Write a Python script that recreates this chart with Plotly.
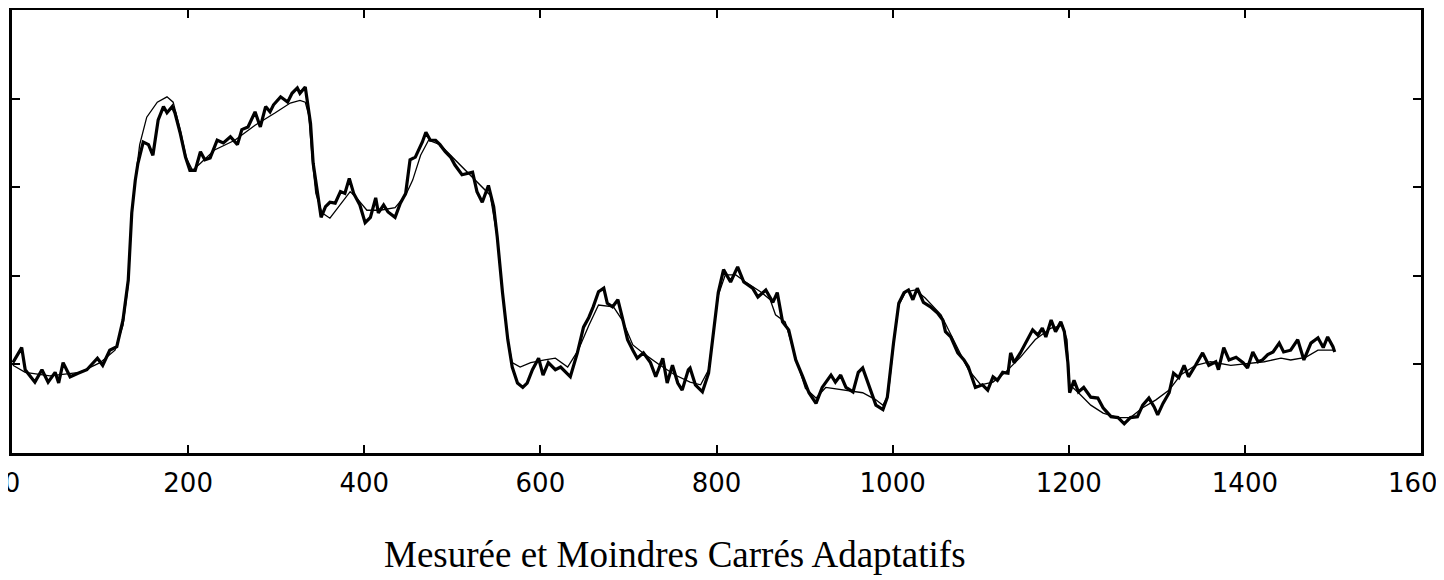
import plotly.graph_objects as go

# Courbe mesurée (trait épais)
x_mesure = [1, 11, 15, 26, 34, 41, 49, 53, 58, 66, 75, 85, 97, 103, 111, 119, 126, 132, 136, 140,
            143, 149, 155, 160, 166, 172, 176, 182, 185, 191, 197, 202, 208, 214, 219, 225, 233, 240,
            248, 256, 261, 268, 276, 282, 288, 293, 297, 305, 313, 318, 324, 327, 333, 336, 339, 342,
            347, 351, 356, 361, 367, 373, 378, 383, 388, 395, 401, 407, 413, 416, 422, 427, 435, 441,
            447, 452, 458, 466, 470, 475, 481, 486, 492, 498, 503, 511, 523, 528, 534, 541, 547, 551,
            557, 563, 568, 574, 580, 585, 591, 598, 603, 609, 617, 623, 634, 642, 649, 655, 660, 666,
            672, 676, 682, 688, 693, 699, 705, 710, 717, 725, 731, 739, 744, 750, 756, 761, 768, 770,
            776, 784, 791, 797, 802, 808, 816, 824, 831, 841, 847, 856, 864, 869, 875, 882, 890, 898,
            905, 913, 920, 930, 935, 941, 947, 955, 961, 966, 972, 981, 989, 994, 1001, 1007, 1013,
            1018, 1023, 1028, 1035, 1043, 1051, 1057, 1060, 1066, 1074, 1081, 1086, 1094, 1102, 1108,
            1114, 1119, 1125, 1131, 1134, 1138, 1145, 1153, 1159, 1165, 1170, 1174, 1180, 1185, 1191,
            1195, 1199, 1201, 1206, 1211, 1217, 1225, 1233, 1239, 1248, 1256, 1263, 1270, 1278, 1284,
            1291, 1297, 1301, 1307, 1314, 1319, 1325, 1331, 1336, 1344, 1352, 1359, 1367, 1370, 1376,
            1382, 1390, 1398, 1403, 1409, 1415, 1420, 1426, 1432, 1439, 1444, 1452, 1460, 1467, 1475,
            1483, 1489, 1494, 1500, 1502]
y_mesure = [1.02, 1.19, 0.94, 0.80, 0.94, 0.80, 0.91, 0.79, 1.02, 0.86, 0.90, 0.94, 1.07, 0.99, 1.16,
            1.20, 1.50, 1.95, 2.71, 3.08, 3.27, 3.51, 3.48, 3.36, 3.76, 3.91, 3.84, 3.91, 3.84, 3.61,
            3.34, 3.19, 3.19, 3.40, 3.31, 3.33, 3.53, 3.50, 3.57, 3.48, 3.65, 3.68, 3.85, 3.68, 3.91,
            3.85, 3.93, 4.02, 3.96, 4.06, 4.12, 4.06, 4.13, 3.93, 3.72, 3.27, 2.93, 2.66, 2.78, 2.83,
            2.82, 2.95, 2.93, 3.10, 2.93, 2.80, 2.60, 2.66, 2.88, 2.71, 2.80, 2.72, 2.66, 2.82, 2.93,
            3.31, 3.34, 3.51, 3.62, 3.53, 3.53, 3.48, 3.40, 3.34, 3.25, 3.14, 3.17, 2.95, 2.83, 3.02,
            2.78, 2.44, 1.81, 1.28, 0.97, 0.79, 0.74, 0.79, 0.94, 1.07, 0.88, 1.02, 0.94, 0.97, 0.86,
            1.13, 1.42, 1.53, 1.65, 1.82, 1.86, 1.69, 1.65, 1.73, 1.53, 1.28, 1.16, 1.07, 1.13, 1.02,
            0.86, 1.07, 0.79, 0.99, 0.79, 0.71, 0.94, 0.96, 0.77, 0.69, 0.90, 1.42, 1.81, 2.07, 1.93,
            2.10, 1.93, 1.86, 1.76, 1.84, 1.70, 1.81, 1.48, 1.39, 1.05, 0.86, 0.68, 0.56, 0.74, 0.88,
            0.80, 0.88, 0.74, 0.69, 0.91, 0.96, 0.79, 0.54, 0.49, 0.63, 1.24, 1.69, 1.81, 1.84, 1.73,
            1.86, 1.70, 1.65, 1.58, 1.50, 1.37, 1.31, 1.13, 1.05, 0.97, 0.74, 0.77, 0.71, 0.86, 0.82,
            0.91, 0.90, 1.13, 1.02, 1.13, 1.28, 1.39, 1.33, 1.41, 1.31, 1.50, 1.37, 1.48, 1.37, 1.02,
            0.68, 0.82, 0.69, 0.74, 0.63, 0.62, 0.51, 0.41, 0.40, 0.33, 0.40, 0.41, 0.54, 0.62, 0.52,
            0.43, 0.56, 0.68, 0.90, 0.85, 0.99, 0.86, 0.99, 1.13, 0.99, 1.03, 0.94, 1.19, 1.05, 1.08,
            1.02, 0.96, 1.14, 1.03, 1.05, 1.11, 1.14, 1.24, 1.14, 1.16, 1.28, 1.05, 1.24, 1.30, 1.19,
            1.31, 1.20, 1.14]

# Moindres carrés adaptatifs (trait fin)
x_mca = [1, 15, 43, 77, 100, 117, 126, 132, 136, 140, 145, 153, 165, 176, 183, 191, 198, 205, 214,
         230, 253, 276, 299, 316, 327, 333, 337, 341, 345, 352, 361, 373, 384, 393, 403, 418, 435,
         447, 455, 464, 473, 486, 503, 515, 532, 543, 551, 557, 563, 568, 577, 589, 605, 617, 631,
         643, 655, 666, 683, 693, 705, 719, 736, 753, 770, 782, 791, 797, 802, 810, 822, 833, 850,
         861, 867, 878, 890, 901, 913, 924, 947, 966, 981, 989, 995, 1001, 1007, 1015, 1026, 1037,
         1055, 1072, 1086, 1100, 1114, 1128, 1145, 1162, 1180, 1193, 1198, 1201, 1211, 1225, 1239,
         1256, 1270, 1284, 1299, 1314, 1327, 1344, 1361, 1384, 1422, 1441, 1452, 1469, 1483, 1501]
y_mca = [0.99, 0.91, 0.87, 0.91, 1.02, 1.16, 1.44, 1.90, 2.69, 3.08, 3.48, 3.79, 3.96, 4.02, 3.96,
         3.65, 3.33, 3.19, 3.27, 3.42, 3.53, 3.70, 3.84, 3.95, 3.98, 3.96, 3.81, 3.31, 2.93, 2.71,
         2.65, 2.80, 2.95, 2.86, 2.74, 2.74, 2.77, 2.91, 3.08, 3.36, 3.53, 3.48, 3.31, 3.19, 3.02,
         2.91, 2.44, 1.81, 1.28, 1.02, 0.97, 1.02, 1.05, 1.07, 0.97, 1.16, 1.44, 1.67, 1.65, 1.50,
         1.22, 1.11, 0.99, 0.88, 0.80, 0.77, 0.94, 1.39, 1.78, 2.01, 2.01, 1.93, 1.82, 1.73, 1.56,
         1.48, 1.07, 0.73, 0.62, 0.74, 0.71, 0.68, 0.60, 0.54, 0.65, 1.22, 1.67, 1.82, 1.84, 1.75,
         1.56, 1.22, 0.94, 0.77, 0.80, 0.91, 1.08, 1.28, 1.41, 1.44, 1.28, 0.77, 0.68, 0.54, 0.45,
         0.40, 0.40, 0.51, 0.60, 0.71, 0.88, 0.99, 1.03, 0.99, 1.03, 1.07, 1.05, 1.08, 1.16, 1.16]

x_ticks = [0, 200, 400, 600, 800, 1000, 1200, 1400, 1600]
y_ticks = [1, 2, 3, 4]
titre = "Mesurée et Moindres Carrés Adaptatifs"

fig = go.Figure()
fig.add_trace(go.Scatter(x=x_mca, y=y_mca, mode='lines',
                         line=dict(color='black', width=1.3), name='Moindres carrés'))
fig.add_trace(go.Scatter(x=x_mesure, y=y_mesure, mode='lines',
                         line=dict(color='black', width=3.2), name='Mesurée'))

# marges réduites de 8px : la page html ajoute une marge de 8px autour du graphique
fig.update_layout(
    width=1444, height=580,
    margin=dict(l=4, r=31, t=2, b=135, autoexpand=False),
    plot_bgcolor='white', paper_bgcolor='white',
    showlegend=False,
    annotations=[dict(text=titre, xref='paper', yref='paper', x=0.4705, y=-0.23,
                      xanchor='center', yanchor='middle', showarrow=False,
                      font=dict(family='Liberation Serif', size=37, color='black'))],
)

# les étiquettes 0 et 1600 débordent du cadre, comme sur l'original
fig.update_xaxes(range=[0, 1600], tickvals=x_ticks, ticks='inside', ticklen=8, tickwidth=2,
                 tickcolor='black', showline=True, linecolor='black', linewidth=2.5, mirror='ticks',
                 showgrid=False, zeroline=False, ticklabelstandoff=5, automargin=False,
                 ticklabeloverflow='allow',
                 tickfont=dict(family='DejaVu Sans', size=26, color='black'))
fig.update_yaxes(range=[0, 5], tickvals=y_ticks, ticks='inside', ticklen=8, tickwidth=2,
                 tickcolor='black', showline=True, linecolor='black', linewidth=2.5, mirror='ticks',
                 showgrid=False, zeroline=False, showticklabels=False, automargin=False)

fig.write_html("out.html")
